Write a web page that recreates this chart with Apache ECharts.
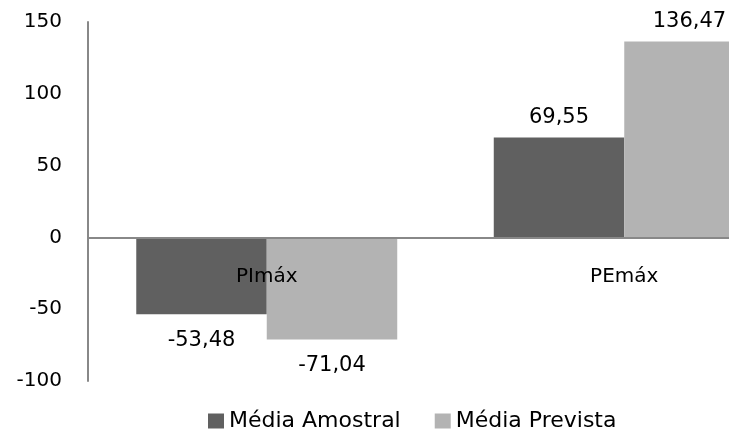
<!DOCTYPE html>
<html>
<head>
<meta charset="utf-8">
<script src="https://cdn.jsdelivr.net/npm/echarts@6/dist/echarts.min.js"></script>
<style>html,body{margin:0;padding:0;background:#fff;}#c{width:729px;height:439px;}</style>
</head>
<body>
<div id="c"></div>
<script>
const categories = ['PImáx', 'PEmáx'];
const amostral = [-53.48, 69.55];
const prevista = [-71.04, 136.47];
const seriesNames = ['Média Amostral', 'Média Prevista'];
const yTicks = { min: -100, max: 150, interval: 50 };

const fmt = v => v.toFixed(2).replace('.', ',');
const FONT = 'DejaVu Sans';
function items(arr) {
  return arr.map(v => ({ value: v, label: v < 0 ? { position: 'bottom', distance: 16 } : { position: 'top', distance: 9 } }));
}
const chart = echarts.init(document.getElementById('c'));
chart.setOption({
  animation: false,
  backgroundColor: '#fff',
  grid: { left: 88, top: 22, height: 359, width: 715, containLabel: false, outerBoundsMode: 'none' },
  legend: {
    left: 203, top: 405, itemWidth: 16, itemHeight: 15, itemGap: 34, itemTextGap: 10,
    icon: 'rect',
    textStyle: { fontFamily: FONT, fontSize: 22, color: '#000' },
    data: seriesNames
  },
  xAxis: {
    type: 'category', data: categories, z: 10,
    axisLine: { onZero: true, lineStyle: { color: '#888', width: 2 } },
    axisTick: { show: false },
    axisLabel: { margin: -114, fontFamily: FONT, fontSize: 20, color: '#000' }
  },
  yAxis: {
    type: 'value', min: yTicks.min, max: yTicks.max, interval: yTicks.interval,
    axisLine: { show: true, lineStyle: { color: '#888', width: 2 } },
    axisTick: { show: false },
    splitLine: { show: false },
    axisLabel: { margin: 26, fontFamily: FONT, fontSize: 20, color: '#000' }
  },
  series: [
    { name: seriesNames[0], type: 'bar', data: items(amostral), barGap: '0%', barCategoryGap: '27%',
      itemStyle: { color: '#606060' },
      label: { show: true, fontFamily: FONT, fontSize: 21, color: '#000', formatter: p => fmt(p.value) } },
    { name: seriesNames[1], type: 'bar', data: items(prevista), barGap: '0%', barCategoryGap: '27%',
      itemStyle: { color: '#b3b3b3' },
      label: { show: true, fontFamily: FONT, fontSize: 21, color: '#000', formatter: p => fmt(p.value) } }
  ]
});
</script>
</body>
</html>
